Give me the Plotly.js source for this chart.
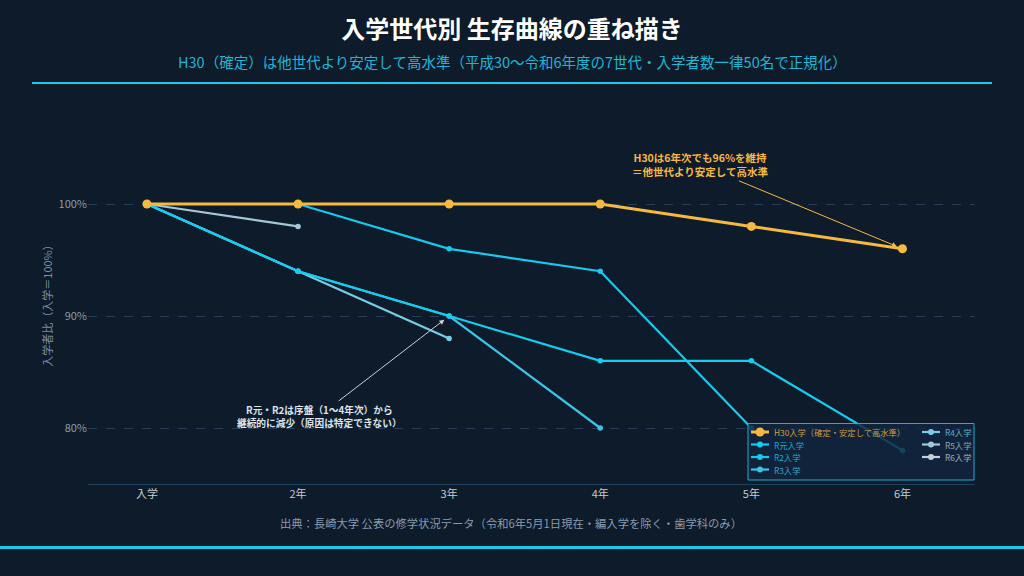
<!DOCTYPE html>
<html>
<head>
<meta charset="utf-8">
<script src="https://cdn.plot.ly/plotly-3.0.1.min.js"></script>
<style>
html,body{margin:0;padding:0;background:#0d1b2a;}
#chart{width:1024px;height:576px;}
</style>
</head>
<body>
<div id="chart"></div>
<script>
// ---- data ----
const categories = ["入学", "2年", "3年", "4年", "5年", "6年"];
const seriesNames = ["H30入学（確定・安定して高水準）", "R元入学", "R2入学", "R3入学", "R4入学", "R5入学", "R6入学"];
const h30 = [100, 100, 100, 100, 98, 96];
const rGan = [100, 94, 90, 86, 86, 78];
const r2 = [100, 100, 96, 94, 80];
const r3 = [100, 94, 90, 80];
const r4 = [100, 94, 88];
const r5 = [100, 98];
const r6 = [100];
const yTicks = [80, 90, 100];
const yTickLabels = ["80%", "90%", "100%"];

// ---- styles ----
const colors = ["#f5b942", "#14cdf0", "#18c9ee", "#3cc4e8", "#76cde6", "#a3c6d8", "#c6d0da"];
const seriesValues = [h30, rGan, r2, r3, r4, r5, r6];
const FONT = "'Noto Sans CJK JP','Noto Sans',sans-serif";

// layout geometry (pixels)
const L = 88, R = 49, T = 122, B = 92, W = 1024, H = 576;
const PW = W - L - R, PH = H - T - B;
const X = px => (px - L) / PW;
const Y = py => (H - B - py) / PH;

const traces = [];
for (let i = seriesValues.length - 1; i >= 0; i--) {
  const vals = seriesValues[i];
  const isMain = i === 0;
  traces.push({
    type: "scatter",
    mode: "lines+markers",
    name: seriesNames[i],
    x: categories.slice(0, vals.length),
    y: vals,
    line: {color: colors[i], width: isMain ? 3 : 2.2},
    marker: {color: colors[i], size: isMain ? 9 : 5.5},
    showlegend: false,
    hoverinfo: "skip"
  });
}

const shapes = [
  {type: "line", xref: "paper", yref: "paper", x0: X(32), x1: X(992), y0: Y(83), y1: Y(83),
   line: {color: "#1ec8ec", width: 2}},
  {type: "line", xref: "paper", yref: "paper", x0: X(0), x1: X(1024), y0: Y(547.5), y1: Y(547.5),
   line: {color: "#1ec8ec", width: 3}},
  // legend box
  {type: "rect", xref: "paper", yref: "paper", layer: "above",
   x0: X(748), x1: X(974), y0: Y(480), y1: Y(423.5),
   fillcolor: "rgba(17,38,62,0.82)", line: {color: "#1aaed2", width: 1}}
];

const annotations = [
  {xref: "paper", yref: "paper", x: X(512), y: Y(61),
   text: "H30（確定）は他世代より安定して高水準（平成30～令和6年度の7世代・入学者数一律50名で正規化）",
   showarrow: false, xanchor: "center", yanchor: "middle",
   font: {family: FONT, size: 14.5, color: "#1fb6d8"}},
  {xref: "paper", yref: "paper", x: X(511), y: Y(523),
   text: "出典：長崎大学 公表の修学状況データ（令和6年5月1日現在・編入学を除く・歯学科のみ）",
   showarrow: false, xanchor: "center", yanchor: "middle",
   font: {family: FONT, size: 11.3, color: "#8a9ab0"}},
  {x: categories[5], y: h30[5], xref: "x", yref: "y",
   text: "<b>H30は6年次でも96%を維持<br>＝他世代より安定して高水準</b>",
   showarrow: true, ax: -202, ay: -84, arrowhead: 2, arrowsize: 1, arrowwidth: 1,
   arrowcolor: "#f5b942", standoff: 6,
   font: {family: FONT, size: 10.5, color: "#f5b942"}, align: "center"},
  {x: categories[2], y: r3[2], xref: "x", yref: "y",
   text: "<b>R元・R2は序盤（1～4年次）から<br>継続的に減少（原因は特定できない）</b>",
   showarrow: true, ax: -130, ay: 100, arrowhead: 2, arrowsize: 1, arrowwidth: 1,
   arrowcolor: "#c8d2dc", standoff: 6,
   font: {family: FONT, size: 9.7, color: "#dde4ec"}, align: "center"}
];

// custom legend (2 columns)
const legendCols = [[0, 1, 2, 3], [4, 5, 6]];
const colX = [751, 922];
const rowY = [432, 444.5, 457, 469.5];
legendCols.forEach((col, ci) => {
  col.forEach((si, ri) => {
    const x0 = colX[ci], py = rowY[ri];
    const isMain = si === 0;
    shapes.push({type: "line", xref: "paper", yref: "paper", layer: "above",
      x0: X(x0), x1: X(x0 + 18), y0: Y(py), y1: Y(py),
      line: {color: colors[si], width: isMain ? 3 : 2.2}});
    const r = isMain ? 4.5 : 3;
    shapes.push({type: "circle", xref: "paper", yref: "paper", layer: "above",
      xsizemode: "pixel", ysizemode: "pixel", xanchor: X(x0 + 9), yanchor: Y(py),
      x0: -r, x1: r, y0: -r, y1: r,
      fillcolor: colors[si], line: {width: 0}});
    annotations.push({xref: "paper", yref: "paper", x: X(x0 + 21), y: Y(py),
      text: seriesNames[si], showarrow: false, xanchor: "left", yanchor: "middle",
      font: {family: FONT, size: 8.3, color: colors[si]}, opacity: 0.8});
  });
});

const layout = {
  width: W, height: H,
  paper_bgcolor: "#0d1b2a", plot_bgcolor: "#0d1b2a",
  margin: {l: L, r: R, t: T, b: B},
  font: {family: FONT, color: "#c0cad4"},
  title: {text: "<b>入学世代別 生存曲線の重ね描き</b>", x: 0.5, xanchor: "center",
          y: 1 - 30 / H, yanchor: "middle", yref: "container",
          font: {family: FONT, size: 24, color: "#ffffff"}},
  xaxis: {type: "category", categoryorder: "array", categoryarray: categories,
          range: [-0.39, 5.48], showgrid: false, zeroline: false,
          showline: true, linecolor: "#24405f", linewidth: 1,
          ticks: "", tickfont: {family: FONT, size: 11, color: "#c3ccd6"}},
  yaxis: {range: [75, 75 + PH / 11.2], tickmode: "array", tickvals: yTicks, ticktext: yTickLabels,
          showgrid: true, gridcolor: "#2a3d58", griddash: "dash", gridwidth: 1,
          zeroline: false, showline: false, ticks: "",
          tickfont: {family: FONT, size: 11, color: "#8a9bb0"},
          title: {text: "入学者比（入学＝100%）", standoff: 3,
                  font: {family: FONT, size: 11, color: "#7d8ea3"}}},
  shapes: shapes,
  annotations: annotations,
  showlegend: false,
  hovermode: false
};

Plotly.newPlot("chart", traces, layout, {displayModeBar: false, staticPlot: true});
</script>
</body>
</html>
